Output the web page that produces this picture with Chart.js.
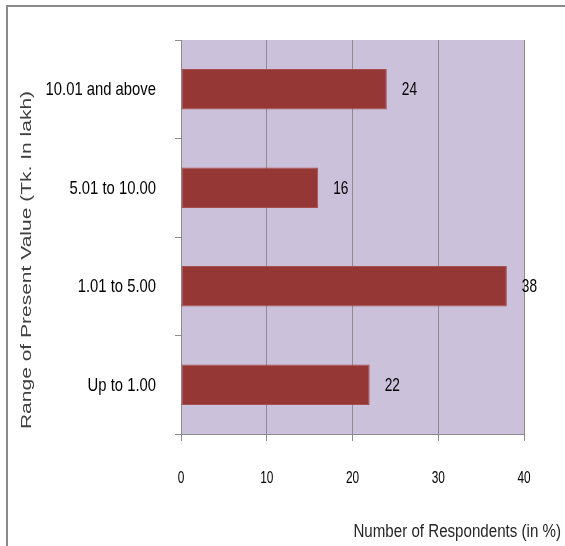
<!DOCTYPE html>
<html lang="en">
<head>
    <meta charset="UTF-8">
    <title>Range of Present Value</title>
    <style>
        html, body {
            margin: 0;
            padding: 0;
            background: #fff;
        }
        #wrap {
            position: relative;
            width: 565px;
            height: 546px;
        }
    </style>
</head>
<body>
    <div id="wrap">
        <canvas id="valueChart" width="565" height="546"></canvas>
    </div>

    <script src="https://cdn.jsdelivr.net/npm/chart.js"></script>
    <script>
        // categories, top to bottom
        const ranges = ["10.01 and above", "5.01 to 10.00", "1.01 to 5.00", "Up to 1.00"];
        // share of respondents (%)
        const respondents = [24, 16, 38, 22];
        // x axis ticks
        const xTicks = [0, 10, 20, 30, 40];

        const yTitle = "Range of Present Value (Tk. In lakh)";
        const xTitle = "Number of Respondents (in %)";

        const SANS = "'Liberation Sans', Arial, sans-serif";
        const GRID = "#8c8c8c";

        // draw text squeezed horizontally (narrow face look)
        function narrowText(ctx, text, x, y, size, squeeze, align, color) {
            ctx.save();
            ctx.translate(x, y);
            ctx.scale(squeeze, 1);
            ctx.font = size + "px " + SANS;
            ctx.fillStyle = color || "#000";
            ctx.textAlign = align;
            ctx.textBaseline = "middle";
            ctx.fillText(text, 0, 0);
            ctx.restore();
        }

        // white page, frame lines and purple plot area
        const backdrop = {
            id: "backdrop",
            beforeDraw(chart) {
                const { ctx, chartArea: a } = chart;
                ctx.save();
                ctx.fillStyle = "#fff";
                ctx.fillRect(0, 0, chart.width, chart.height);
                ctx.strokeStyle = "#8a8a8a";
                ctx.lineWidth = 2;
                ctx.beginPath();
                ctx.moveTo(7, chart.height);
                ctx.lineTo(7, 6);
                ctx.lineTo(chart.width, 6);
                ctx.stroke();
                ctx.fillStyle = "#ccc1da";
                ctx.fillRect(a.left, a.top, a.right - a.left, a.bottom - a.top);
                ctx.restore();
            }
        };

        // tick labels for both axes
        const tickText = {
            id: "tickText",
            afterDraw(chart) {
                const { ctx } = chart;
                const x = chart.scales.x, y = chart.scales.y;
                y.ticks.forEach((t, i) => {
                    narrowText(ctx, ranges[i], 156, y.getPixelForTick(i) + 1, 19, 0.78, "right");
                });
                xTicks.forEach(v => {
                    narrowText(ctx, String(v), x.getPixelForValue(v), 479, 16, 0.74, "center");
                });
            }
        };

        // value next to each bar
        const barValues = {
            id: "barValues",
            afterDatasetsDraw(chart) {
                const meta = chart.getDatasetMeta(0);
                meta.data.forEach((bar, i) => {
                    narrowText(chart.ctx, String(respondents[i]), bar.x + 15, bar.y + 1, 19, 0.72, "left");
                });
            }
        };

        // axis titles
        const axisTitles = {
            id: "axisTitles",
            afterDraw(chart) {
                const { ctx } = chart;
                ctx.save();
                ctx.fillStyle = "#404040";
                ctx.textBaseline = "middle";
                ctx.textAlign = "center";
                ctx.translate(27, 260);
                ctx.rotate(-Math.PI / 2);
                ctx.scale(1.5, 1);
                ctx.font = "14px " + SANS;
                ctx.fillText(yTitle, 0, 0);
                ctx.restore();

                narrowText(ctx, xTitle, 561, 532, 18, 0.84, "right", "#262626");
            }
        };

        const ctx = document.getElementById("valueChart").getContext("2d");
        const valueChart = new Chart(ctx, {
            type: "bar",
            data: {
                labels: ranges,
                datasets: [{
                    data: respondents,
                    backgroundColor: "#953735",
                    borderColor: "#a5504e",
                    borderWidth: 1,
                    borderSkipped: false,
                    barPercentage: 0.41,
                    categoryPercentage: 1
                }]
            },
            options: {
                indexAxis: "y",
                responsive: false,
                animation: false,
                layout: { padding: { top: 40, right: 41, left: 0, bottom: 0 } },
                plugins: {
                    legend: { display: false },
                    tooltip: { enabled: false }
                },
                scales: {
                    x: {
                        min: 0,
                        max: 40,
                        afterBuildTicks(scale) {
                            scale.ticks = xTicks.map(v => ({ value: v }));
                        },
                        afterFit(scale) { scale.height = 112; },
                        ticks: { display: false },
                        grid: { color: GRID, tickLength: 7, lineWidth: 1 },
                        border: { color: GRID }
                    },
                    y: {
                        afterFit(scale) { scale.width = 181; },
                        ticks: { display: false },
                        grid: {
                            drawOnChartArea: false,
                            color: GRID,
                            tickLength: 6,
                            offset: true
                        },
                        border: { color: GRID }
                    }
                }
            },
            plugins: [backdrop, tickText, barValues, axisTitles]
        });
    </script>
</body>
</html>
